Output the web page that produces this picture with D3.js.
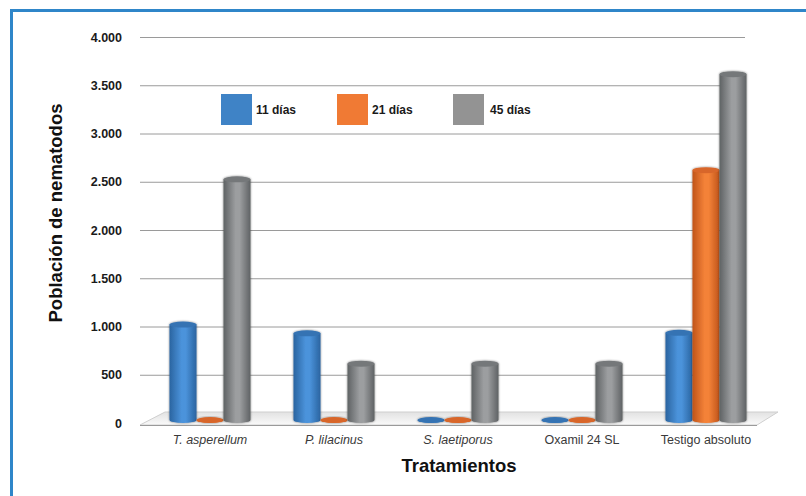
<!DOCTYPE html>
<html><head><meta charset="utf-8">
<script src="https://cdn.jsdelivr.net/npm/d3@7"></script>
<style>body{margin:0;background:#fff}svg{display:block}</style>
</head><body>
<svg id="c" width="806" height="496"></svg>
<script>
const categories = ["T. asperellum","P. lilacinus","S. laetiporus","Oxamil 24 SL","Testigo absoluto"];
const italicCats = [true,true,true,false,false];
const seriesNames = ["11 días","21 días","45 días"];
const dias11 = [1020, 930, 15, 15, 935];
const dias21 = [15, 15, 15, 15, 2620];
const dias45 = [2525, 615, 615, 615, 3615];
const yTicks = [0,500,1000,1500,2000,2500,3000,3500,4000];
const yTickLabels = ["0","500","1.000","1.500","2.000","2.500","3.000","3.500","4.000"];

const colors = [
  {edge:"#2a64a0", mid:"#4b93db", cap:"#3573b3"},
  {edge:"#c0541a", mid:"#f48238", cap:"#d8662a"},
  {edge:"#5f6264", mid:"#9c9ea0", cap:"#75787a"}
];
const legendColors = ["#3f83c6","#f07a34","#939393"];

const svg = d3.select("#c");
const defs = svg.append("defs");
colors.forEach((c,i)=>{
  const g = defs.append("linearGradient").attr("id","g"+i).attr("x1","0").attr("x2","1").attr("y1","0").attr("y2","0");
  g.append("stop").attr("offset","0").attr("stop-color",c.edge);
  g.append("stop").attr("offset","0.45").attr("stop-color",c.mid);
  g.append("stop").attr("offset","0.6").attr("stop-color",c.mid);
  g.append("stop").attr("offset","1").attr("stop-color",c.edge);
});
const fl = defs.append("linearGradient").attr("id","floor").attr("x1","0").attr("x2","0").attr("y1","0").attr("y2","1");
fl.append("stop").attr("offset","0").attr("stop-color","#e2e2e2");
fl.append("stop").attr("offset","1").attr("stop-color","#fafafa");
const sh = defs.append("filter").attr("id","sh").attr("x","-20%").attr("y","-5%").attr("width","140%").attr("height","110%");
sh.append("feGaussianBlur").attr("in","SourceAlpha").attr("stdDeviation","1.2").attr("result","b");
sh.append("feOffset").attr("in","b").attr("dx","0").attr("dy","0").attr("result","o");
sh.append("feComponentTransfer").attr("in","o").attr("result","o2").append("feFuncA").attr("type","linear").attr("slope","0.5");
const mg = sh.append("feMerge");
mg.append("feMergeNode").attr("in","o2");
mg.append("feMergeNode").attr("in","SourceGraphic");

// frame
svg.append("path").attr("d","M11.5,496 V10.5 H806").attr("fill","none").attr("stroke","#2f86c9").attr("stroke-width",3);

const y = d3.scaleLinear().domain([0,4000]).range([423,37]);
const x0 = d3.scaleBand().domain(categories).range([148,768]).padding(0);
const x1 = d3.scaleBand().domain(seriesNames).range([-40.5,40.5]).padding(0);

// grid
svg.append("g").selectAll("line").data(yTicks.filter(d=>d>0)).join("line")
  .attr("x1",140).attr("x2",745).attr("y1",d=>y(d)+0.5).attr("y2",d=>y(d)+0.5)
  .attr("stroke","#9a9a9a").attr("stroke-width",1);

// floor
svg.append("path").attr("d",`M140,${y(0)+2} L757,${y(0)+2} L778,${y(0)-11} L165,${y(0)-11} Z`)
  .attr("fill","url(#floor)").attr("stroke","#cfcfcf").attr("stroke-width",1);
svg.append("line").attr("x1",140).attr("x2",757).attr("y1",y(0)+2.5).attr("y2",y(0)+2.5).attr("stroke","#9a9a9a");

// y axis labels
const yAxis = d3.axisLeft(y).tickValues(yTicks).tickFormat((d,i)=>yTickLabels[i]).tickSize(0).tickPadding(0);
const ya = svg.append("g").attr("transform","translate(122,0)").call(yAxis);
ya.select(".domain").remove();
ya.selectAll("text").attr("font-family","Liberation Sans, Arial, sans-serif").attr("font-weight","bold")
  .attr("font-size","12.5px").attr("fill","#1a1a1a");

// bars
const series = [dias11, dias21, dias45];
const bars = [];
categories.forEach((c,ci)=>{
  seriesNames.forEach((s,si)=>{
    bars.push({cat:c, ci, si, v:series[si][ci]});
  });
});
const rx = x1.bandwidth()/2;
const base = y(0)-3;
const topY = d => Math.min(y(d.v), base);
const bg = svg.append("g");
const bar = bg.selectAll("g.bar").data(bars).join("g").attr("class","bar")
  .attr("transform",d=>`translate(${x0(d.cat)+x0.bandwidth()/2 + x1(seriesNames[d.si])},0)`)
  .attr("filter","url(#sh)");
bar.append("path").attr("d",d=>{
  const top = topY(d);
  const w = x1.bandwidth();
  return `M0,${top} L0,${base} A${rx},3 0 0 0 ${w},${base} L${w},${top} Z`;
}).attr("fill",d=>`url(#g${d.si})`);
bar.append("ellipse").attr("cx",rx).attr("cy",topY).attr("rx",rx).attr("ry",3)
  .attr("fill",d=>colors[d.si].cap);

// category labels
svg.append("g").selectAll("text").data(categories).join("text")
  .attr("x",d=>x0(d)+x0.bandwidth()/2).attr("y",444).attr("text-anchor","middle")
  .attr("font-family","Liberation Sans, Arial, sans-serif").attr("font-size","12.5px")
  .attr("font-style",(d,i)=>italicCats[i]?"italic":"normal").attr("fill","#3a3a3a").text(d=>d);

// titles
svg.append("text").attr("x",459).attr("y",472).attr("text-anchor","middle")
  .attr("font-family","Liberation Sans, Arial, sans-serif").attr("font-weight","bold").attr("font-size","18.5px")
  .attr("fill","#111").text("Tratamientos");
svg.append("text").attr("transform","translate(62,213) rotate(-90)").attr("text-anchor","middle")
  .attr("font-family","Liberation Sans, Arial, sans-serif").attr("font-weight","bold").attr("font-size","18.5px")
  .attr("fill","#111").text("Población de nematodos");

// legend
const legX = [221,337,453];
const lg = svg.append("g").selectAll("g").data(seriesNames).join("g")
  .attr("transform",(d,i)=>`translate(${legX[i]},94)`);
lg.append("rect").attr("width",31).attr("height",31).attr("fill",(d,i)=>legendColors[i]);
lg.append("text").attr("x",(d,i)=>i==2?37:35).attr("y",19.5)
  .attr("font-family","Liberation Sans, Arial, sans-serif").attr("font-weight","bold").attr("font-size","12px")
  .attr("fill","#1a1a1a").text(d=>d);
</script>
</body></html>
